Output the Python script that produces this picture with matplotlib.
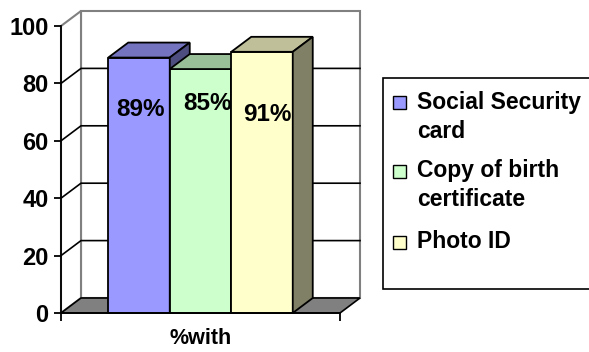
import numpy as np
import matplotlib.pyplot as plt
from matplotlib.patches import Polygon, Rectangle
from matplotlib.colors import to_rgb

# data
series = ["Social Security card", "Copy of birth certificate", "Photo ID"]
legend_lines = [["Social Security", "card"], ["Copy of birth", "certificate"], ["Photo ID"]]
values = [89, 85, 91]
category = "%with"
yticks = [0, 20, 40, 60, 80, 100]
colors = ["#9999FF", "#CCFFCC", "#FFFFCC"]

plt.rcParams["font.family"] = ["Liberation Sans", "DejaVu Sans"]
plt.rcParams["font.weight"] = "bold"

W, H = 589, 352
fig = plt.figure(figsize=(W / 100, H / 100), dpi=100)
ax = fig.add_axes([61 / W, 39 / H, 279 / W, 287 / H])
ax.set_xlim(-0.5, 0.5)
ax.set_ylim(0, 100)
ax.patch.set_visible(False)

# 3d depth offset (pixels -> data units)
ddx = 20 / 279
ddy = 15 / 287 * 100
grey = "#808080"

# back wall
ax.add_patch(Rectangle((-0.5 + ddx, ddy), 1.0, 100, facecolor="white",
                       edgecolor=grey, lw=1.5, clip_on=False, zorder=1))
# left wall
ax.add_patch(Polygon([(-0.5, 0), (-0.5 + ddx, ddy), (-0.5 + ddx, 100 + ddy), (-0.5, 100)],
                     closed=True, facecolor="white", edgecolor=grey, lw=1.5,
                     clip_on=False, zorder=1))
# gridlines
for t in yticks[1:-1]:
    ax.plot([-0.5, -0.5 + ddx, 0.5 + ddx], [t, t + ddy, t + ddy], color="black",
            lw=1.2, clip_on=False, zorder=2)
# floor
ax.add_patch(Polygon([(-0.5, 0), (0.5, 0), (0.5 + ddx, ddy), (-0.5 + ddx, ddy)],
                     closed=True, facecolor=grey, edgecolor="black", lw=1.2,
                     clip_on=False, zorder=3))

# bars
w = 61.5 / 279
xs = (np.arange(len(values)) - (len(values) - 1) / 2) * w
for i, (x, v, c) in enumerate(zip(xs, values, colors)):
    rgb = np.array(to_rgb(c))
    x0 = x - w / 2
    z = 4 + i
    ax.add_patch(Rectangle((x0, 0), w, v, facecolor=c, edgecolor="black", lw=1.3,
                           clip_on=False, zorder=z))
    ax.add_patch(Polygon([(x0, v), (x0 + w, v), (x0 + w + ddx, v + ddy), (x0 + ddx, v + ddy)],
                         closed=True, facecolor=rgb * 0.75, edgecolor="black", lw=1.3,
                         clip_on=False, zorder=z))
    ax.add_patch(Polygon([(x0 + w, 0), (x0 + w + ddx, ddy), (x0 + w + ddx, v + ddy), (x0 + w, v)],
                         closed=True, facecolor=rgb * 0.5, edgecolor="black", lw=1.3,
                         clip_on=False, zorder=z))

# value labels (layout offsets in px)
lab_dx = [1.5, 7, 5]
lab_dy = [-18, -12, -22]
for x, v, ox, oy in zip(xs, values, lab_dx, lab_dy):
    ax.text(x + ox / 279, v + oy, f"{v}%", ha="center", va="center",
            fontsize=17.5, fontweight="bold", zorder=10)

# axes
for s in ["top", "right"]:
    ax.spines[s].set_visible(False)
for s in ["left", "bottom"]:
    ax.spines[s].set_linewidth(1.3)
    ax.spines[s].set_zorder(9)
ax.set_yticks(yticks)
ax.set_yticklabels([str(t) for t in yticks], fontsize=17, fontweight="bold")
ax.tick_params(axis="y", direction="out", length=5, width=1.3, pad=4)
ax.set_xticks([0])
ax.set_xticklabels([category], fontsize=15.5, fontweight="bold")
ax.tick_params(axis="x", which="major", length=0, pad=11)
ax.set_xticks([-0.5, 0.5], minor=True)
ax.tick_params(axis="x", which="minor", direction="out", length=6, width=1.3)

# legend (pixel overlay)
lg = fig.add_axes([0, 0, 1, 1])
lg.set_xlim(0, W)
lg.set_ylim(H, 0)
lg.axis("off")
lg.patch.set_visible(False)
lg.add_patch(Rectangle((383, 78), 240, 211, facecolor="white", edgecolor="black",
                       lw=1.2, clip_on=False))
ys = [102, 171, 242]
for lines, c, y in zip(legend_lines, colors, ys):
    lg.add_patch(Rectangle((393, y - 6.5), 13, 13, facecolor=c, edgecolor="black", lw=1.0))
    for k, line in enumerate(lines):
        lg.text(417, y + k * 29, line, ha="left", va="center", fontsize=16.5,
                fontweight="bold")

fig.savefig("out.png", dpi=100)
